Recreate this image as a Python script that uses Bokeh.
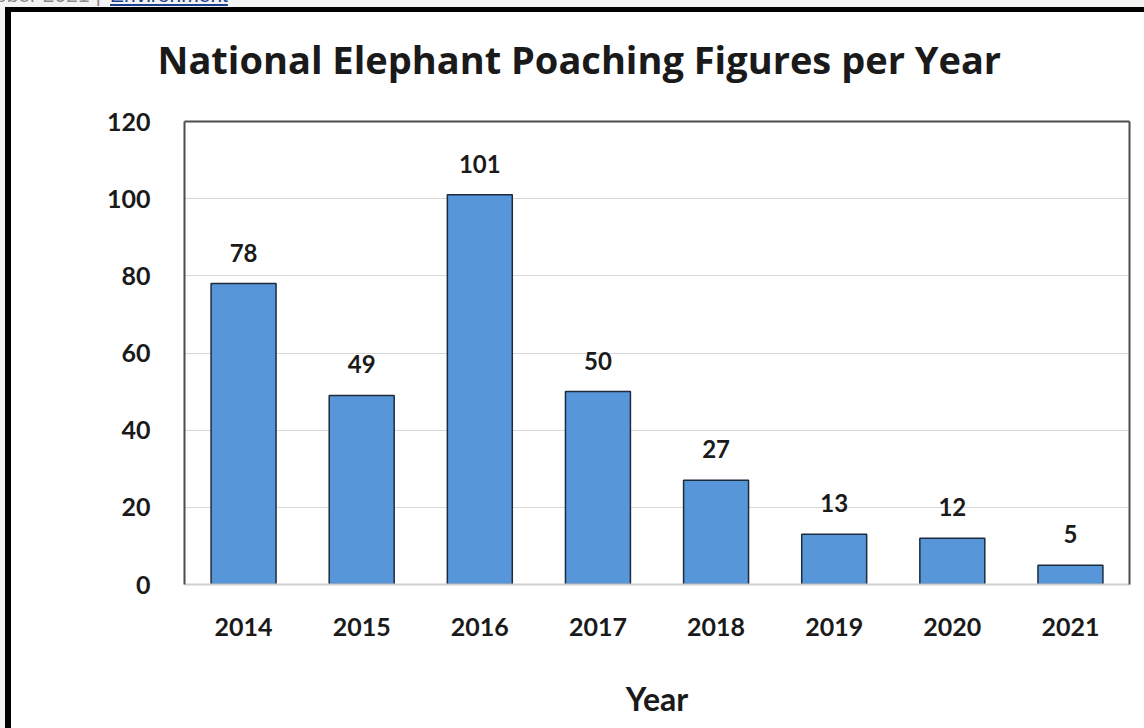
from bokeh.plotting import figure
from bokeh.models import (FactorRange, Range1d, LinearAxis, CategoricalAxis,
                          FixedTicker, Title, ColumnDataSource, InlineStyleSheet)
from bokeh.core.properties import value
from bokeh.embed import file_html
from bokeh.resources import INLINE

years = ["2014", "2015", "2016", "2017", "2018", "2019", "2020", "2021"]
poached = [78, 49, 101, 50, 27, 13, 12, 5]
y_ticks = [0, 20, 40, 60, 80, 100, 120]
title_text = "National Elephant Poaching Figures per Year"
x_title = "Year"
page_date = "ober 2021 |"
page_section = "Environment"

FONT = "Lato"
TFONT = "Open Sans"
W, H = 1144, 728
FL, FB = 184, 584  # frame left / bottom in canvas pixels

src = ColumnDataSource(dict(year=years, n=poached, lbl=[str(v) for v in poached]))

p = figure(width=W, height=H, x_range=FactorRange(*years), y_range=Range1d(0, 120),
           output_backend="svg", toolbar_location=None, title=None,
           min_border_left=FL, min_border_right=15, min_border_top=121, min_border_bottom=H - FB)
p.border_fill_color = None
p.background_fill_color = "white"
p.outline_line_color = None

p.vbar(x="year", top="n", width=0.55, source=src, fill_color="#5796D8",
       line_color="#1d2b3c", line_width=1.5)
p.text(x="year", y="n", text="lbl", source=src, text_align="center",
       text_baseline="alphabetic", y_offset=-31, text_font=value(FONT),
       text_font_style="bold", text_font_size="24px", text_color="#1a1a1a")

# axes
p.yaxis.ticker = FixedTicker(ticks=y_ticks)
p.yaxis.major_tick_line_color = None
p.yaxis.minor_tick_line_color = None
p.yaxis.axis_line_color = "#4d4d4d"
p.yaxis.axis_line_width = 2
p.yaxis.major_label_standoff = 28
p.yaxis.major_label_text_font = FONT
p.yaxis.major_label_text_font_style = "bold"
p.yaxis.major_label_text_font_size = "25px"
p.yaxis.major_label_text_color = "#1a1a1a"

p.xaxis.major_tick_line_color = None
p.xaxis.axis_line_color = "#d0d0d0"
p.xaxis.axis_line_width = 2
p.xaxis.major_label_standoff = 27
p.xaxis.major_label_text_font = FONT
p.xaxis.major_label_text_font_style = "bold"
p.xaxis.major_label_text_font_size = "25px"
p.xaxis.major_label_text_color = "#1a1a1a"
p.xaxis.axis_label = x_title
p.xaxis.axis_label_standoff = 40
p.xaxis.axis_label_text_font = FONT
p.xaxis.axis_label_text_font_style = "bold"
p.xaxis.axis_label_text_font_size = "32px"
p.xaxis.axis_label_text_color = "#1a1a1a"

p.xgrid.grid_line_color = None
p.ygrid.grid_line_color = "#d9d9d9"
p.ygrid.grid_line_width = 1.2

top_ax = CategoricalAxis(major_tick_line_color=None, major_label_text_font_size="0px",
                         axis_line_color="#4d4d4d", axis_line_width=2,
                         major_label_text_color=None)
p.add_layout(top_ax, "above")
right_ax = LinearAxis(ticker=FixedTicker(ticks=[]), major_tick_line_color=None,
                      minor_tick_line_color=None, major_label_text_font_size="0px",
                      axis_line_color="#4d4d4d", axis_line_width=2)
p.add_layout(right_ax, "right")

p.add_layout(Title(text=title_text, align="left", offset=-27, standoff=61,
                   text_font=TFONT, text_font_style="bold", text_font_size="38px",
                   text_color="#1a1a1a"), "above")

# page decoration: light strip and thick black frame around the chart
p.styles = {"background-color": "white",
            "box-shadow": "inset 5px 7px 0 0 #f3f3f3, inset 11px 12px 0 0 #000000"}
p.stylesheets = [InlineStyleSheet(css=f"""
:host::before {{ content: "{page_date}"; position: absolute; left: -5px; top: -17px;
  font: 21px Arial, sans-serif; line-height: 23px; color: #8a8a8a; z-index: 5; }}
:host::after {{ content: "{page_section}"; position: absolute; left: 110px; top: -17px;
  font: 21px Arial, sans-serif; line-height: 23px; color: #1a3f8f;
  text-decoration: underline; z-index: 5; }}
""")]

open("out.html", "w").write(file_html(p, INLINE))
